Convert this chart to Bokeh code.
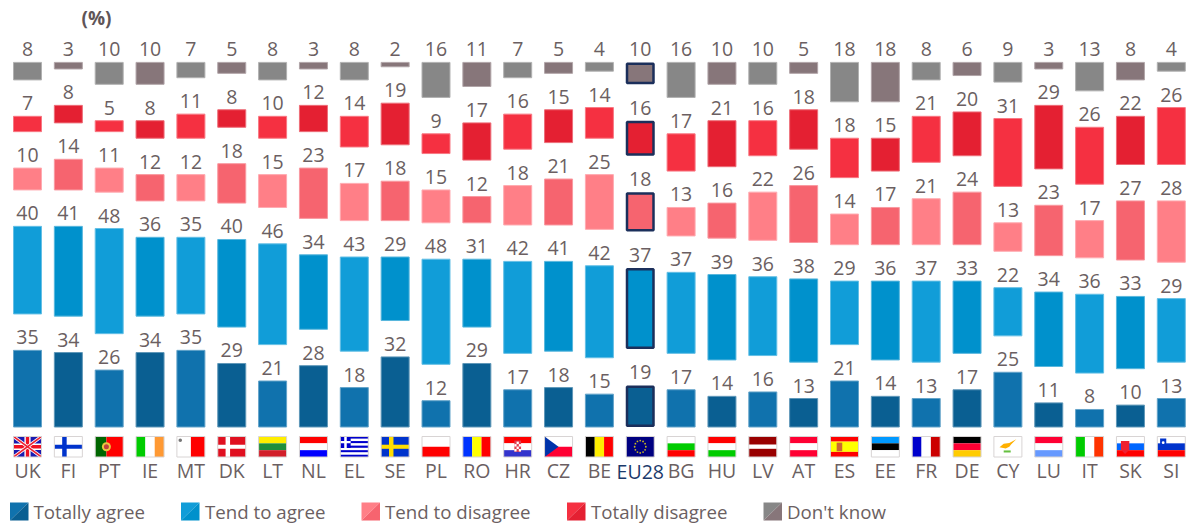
from bokeh.plotting import figure
from bokeh.models import Range1d, FixedTicker, LinearAxis
from bokeh.core.properties import value
from bokeh.embed import file_html
from bokeh.resources import INLINE
import numpy as np

countries = ["UK","FI","PT","IE","MT","DK","LT","NL","EL","SE","PL","RO","HR","CZ","BE","EU28","BG","HU","LV","AT","ES","EE","FR","DE","CY","LU","IT","SK","SI"]
totally_agree = [35,34,26,34,35,29,21,28,18,32,12,29,17,18,15,19,17,14,16,13,21,14,13,17,25,11,8,10,13]
tend_agree = [40,41,48,36,35,40,46,34,43,29,48,31,42,41,42,37,37,39,36,38,29,36,37,33,22,34,36,33,29]
tend_disagree = [10,14,11,12,12,18,15,23,17,18,15,12,18,21,25,18,13,16,22,26,14,17,21,24,13,23,17,27,28]
totally_disagree = [7,8,5,8,11,8,10,12,14,19,9,17,16,15,14,16,17,21,16,18,18,15,21,20,31,29,26,22,26]
dont_know = [8,3,10,10,7,5,8,3,8,2,16,11,7,5,4,10,16,10,10,5,18,18,8,6,9,3,13,8,4]
series_names = ["Totally agree","Tend to agree","Tend to disagree","Totally disagree","Don't know"]
series = [totally_agree, tend_agree, tend_disagree, totally_disagree, dont_know]
light = ["#1072AD","#119DD8","#FF7F87","#F53041","#878787"]
dark = ["#0A5F92","#0091CC","#F6646F","#E42032","#87767A"]

W, H = 1187, 525
OX, OY = 0, 0
PITCH, X0 = 40.85, 27.0
UNIT, BASE = 2.19, 426.5
GAP = 36.4 / UNIT
BAR = 29.0 / PITCH
TXT = "#6B5F62"
FONT = "Open Sans"

p = figure(width=W, height=H, output_backend="svg", toolbar_location=None,
           x_range=Range1d((OX - X0) / PITCH, (OX + W - X0) / PITCH),
           y_range=Range1d((BASE - OY - H) / UNIT, (BASE - OY) / UNIT),
           min_border=0, outline_line_color=None, border_fill_color="white")
p.extra_x_ranges["px"] = Range1d(OX, OX + W)
p.extra_y_ranges["px"] = Range1d(OY + H, OY)
p.grid.visible = False
p.yaxis.visible = False
p.xaxis.visible = False

idx = np.arange(len(countries))
ax = LinearAxis(ticker=FixedTicker(ticks=[int(i) for i in idx if countries[i] != "EU28"]),
                major_label_overrides={int(i): c for i, c in enumerate(countries)},
                axis_line_color=None, major_tick_line_color=None, minor_tick_line_color=None,
                major_label_text_font=FONT, major_label_text_font_size="19.5px",
                major_label_text_color=TXT, major_label_standoff=24, fixed_location=0)
p.add_layout(ax, "below")

def tint(c, a=0.35):
    r = [int(c[k:k+2], 16) for k in (1, 3, 5)]
    return "#%02x%02x%02x" % tuple(int(v + (255 - v) * a) for v in r)

cum = np.zeros(len(countries))
for s, vals in enumerate(series):
    vals = np.array(vals, float)
    bottom = cum + s * GAP
    top = bottom + vals
    cols = [light[s] if i % 2 == 0 else dark[s] for i in idx]
    lines = [tint(c) for c in cols]
    eu = [i for i in idx if countries[i] == "EU28"]
    rest = [i for i in idx if countries[i] != "EU28"]
    p.vbar(x=idx[rest], bottom=bottom[rest], top=top[rest], width=BAR - 1 / PITCH,
           fill_color=[cols[i] for i in rest], line_color=[lines[i] for i in rest], line_width=1)
    ix, iy = 1.25 / PITCH, 1.25 / UNIT
    p.vbar(x=idx[eu], bottom=bottom[eu] + iy, top=top[eu] - iy, width=BAR - 2 * ix,
           fill_color=[cols[i] for i in eu], line_color="#1B2F5B", line_width=2.5)
    p.text(x=idx, y=top, text=[str(int(v)) for v in vals], text_align="center",
           text_baseline="alphabetic", y_offset=-13, text_color=TXT,
           text_font=value(FONT), text_font_size="19.5px")
    cum = cum + vals

p.text(x=[15], y=[0], text=["EU28"], text_align="center", text_baseline="alphabetic", y_offset=44,
       text_color="#1B3A6B", text_font=value(FONT), text_font_size="19.5px")

p.text(x=[96], y=[17], text=["(%)"], x_range_name="px", y_range_name="px", text_align="center",
       text_baseline="middle", text_color="#5F5558", text_font=value(FONT),
       text_font_style="bold", text_font_size="19px")

# ---- flags (drawn in flag-local fractions, 28 x 20.5 px)
Q = []; P = []; C = []
FW, FH, FT = 28.0, 20.5, 436.0
def box(i, a, b, c, d, col):
    cx = X0 + i * PITCH - FW / 2
    Q.append((cx + a * FW, cx + b * FW, FT + c * FH, FT + d * FH, col))
def poly(i, pts, col):
    cx = X0 + i * PITCH - FW / 2
    P.append(([cx + a * FW for a, _ in pts], [FT + b * FH for _, b in pts], col))
def dot(i, a, b, r, col):
    cx = X0 + i * PITCH - FW / 2
    C.append((cx + a * FW, FT + b * FH, r, col))
def hs(i, cols, w=None):
    w = w or [1 / len(cols)] * len(cols); t = 0
    for c, f in zip(cols, w):
        box(i, 0, 1, t, t + f, c); t += f
def vs(i, cols, w=None):
    w = w or [1 / len(cols)] * len(cols); t = 0
    for c, f in zip(cols, w):
        box(i, t, t + f, 0, 1, c); t += f
def nordic(i, bg, cross):
    box(i, 0, 1, 0, 1, bg)
    box(i, .28, .44, 0, 1, cross)
    box(i, 0, 1, .40, .60, cross)
WH = "#FFFFFF"
k = {c: n for n, c in enumerate(countries)}

i = k["UK"]; box(i, 0, 1, 0, 1, "#1A1AB0")
poly(i, [(0,0),(.1,0),(1,.9),(1,1),(.9,1),(0,.1)], WH)
poly(i, [(1,0),(.9,0),(0,.9),(0,1),(.1,1),(1,.1)], WH)
poly(i, [(0,0),(.05,0),(1,.95),(1,1),(.95,1),(0,.05)], "#EE2233")
poly(i, [(1,0),(.95,0),(0,.95),(0,1),(.05,1),(1,.05)], "#EE2233")
box(i, .39, .61, 0, 1, WH); box(i, 0, 1, .34, .66, WH)
box(i, .44, .56, 0, 1, "#EE1122"); box(i, 0, 1, .41, .59, "#EE1122")
nordic(k["FI"], WH, "#0033CC")
i = k["PT"]; vs(i, ["#006600", "#FF0000"], [.4, .6]); dot(i, .4, .5, 4.5, "#E8C840"); dot(i, .4, .5, 2.5, "#C04040")
vs(k["IE"], ["#00CC00", WH, "#FF9933"])
i = k["MT"]; vs(i, [WH, "#FF0000"], [.5, .5]); dot(i, .12, .18, 1.8, "#777777")
nordic(k["DK"], "#E01020", WH)
hs(k["LT"], ["#FFEE00", "#1E8F3C", "#D21F2A"])
hs(k["NL"], ["#FF0000", WH, "#0000FF"])
i = k["EL"]; hs(i, ["#0000CC", WH] * 4 + ["#0000CC"], [1/9]*9); box(i, 0, .37, 0, .56, "#0000CC")
box(i, .14, .23, 0, .56, WH); box(i, 0, .37, .22, .33, WH)
nordic(k["SE"], "#0033CC", "#FFDD00")
hs(k["PL"], [WH, "#FF0000"])
vs(k["RO"], ["#0033FF", "#FFFF00", "#FF0000"])
i = k["HR"]; hs(i, ["#FF0000", WH, "#3333CC"]); box(i, .38, .62, .2, .75, "#E04050")
for a in range(3):
    for b in range(4):
        if (a + b) % 2: box(i, .38 + a * .08, .46 + a * .08, .25 + b * .12, .37 + b * .12, WH)
i = k["CZ"]; hs(i, [WH, "#FF0033"]); poly(i, [(0,0),(.5,.5),(0,1)], "#0033AA")
vs(k["BE"], ["#000000", "#FFEE00", "#FF0000"])
i = k["EU28"]; box(i, 0, 1, 0, 1, "#000080")
for t in range(12):
    a = np.pi * t / 6
    dot(i, .5 + .2 * np.cos(a), .5 + .3 * np.sin(a), .9, "#C8B820")
hs(k["BG"], [WH, "#00CC00", "#FF0000"])
hs(k["HU"], ["#FF0000", WH, "#00CC00"])
hs(k["LV"], ["#990000", WH, "#990000"], [.4, .2, .4])
hs(k["AT"], ["#FF0033", WH, "#FF0033"])
i = k["ES"]; hs(i, ["#FF0000", "#FFFF00", "#FF0000"], [.25, .5, .25]); box(i, .22, .42, .3, .72, "#CC6633")
hs(k["EE"], ["#0099FF", "#000000", WH])
vs(k["FR"], ["#0000CC", WH, "#CC0000"])
hs(k["DE"], ["#000000", "#FF0033", "#FFCC00"])
i = k["CY"]; box(i, 0, 1, 0, 1, WH)
poly(i, [(.2,.52),(.35,.35),(.55,.32),(.8,.14),(.62,.38),(.55,.5),(.42,.58)], "#FFB000")
box(i, .35, .6, .68, .78, "#66C040")
hs(k["LU"], ["#FF0033", WH, "#6699FF"])
vs(k["IT"], ["#00CC00", WH, "#FF3300"])
i = k["SK"]; hs(i, [WH, "#0066FF", "#FF0000"]); poly(i, [(.16,.22),(.46,.22),(.46,.65),(.31,.85),(.16,.65)], "#F02030")
box(i, .28, .34, .3, .65, WH); box(i, .22, .4, .38, .46, WH)
i = k["SI"]; hs(i, [WH, "#0033CC", "#FF0000"]); poly(i, [(.1,.1),(.32,.1),(.32,.4),(.21,.55),(.1,.4)], "#0033CC")
dot(i, .21, .3, 1.4, WH)

p.quad(left=[q[0] for q in Q], right=[q[1] for q in Q], top=[q[2] for q in Q], bottom=[q[3] for q in Q],
       fill_color=[q[4] for q in Q], line_color=None, x_range_name="px", y_range_name="px")
p.patches(xs=[a[0] for a in P], ys=[a[1] for a in P], fill_color=[a[2] for a in P], line_color=None,
          x_range_name="px", y_range_name="px")
p.circle(x=[c[0] for c in C], y=[c[1] for c in C], radius=[c[2] for c in C], fill_color=[c[3] for c in C],
         line_color=None, x_range_name="px", y_range_name="px", radius_units="screen")
# thin frame around every flag
fx = X0 + idx * PITCH
p.quad(left=fx - FW / 2, right=fx + FW / 2, top=FT, bottom=FT + FH, fill_color=None,
       line_color="#D8D4D4", line_width=1, x_range_name="px", y_range_name="px")

# ---- legend
sw_x = [9.5, 180.5, 361, 566.5, 763]
tx_x = [33, 204.5, 384.5, 590.5, 786.5]
SW, ST, SB = 18.5, 502, 520
for s, name in enumerate(series_names):
    x = sw_x[s]
    p.patches(xs=[[x, x + SW, x], [x + SW, x + SW, x]], ys=[[ST, ST, SB], [ST, SB, SB]],
              fill_color=[light[s], dark[s]], line_color=None, x_range_name="px", y_range_name="px")
    p.text(x=[tx_x[s]], y=[511], text=[name], text_align="left", text_baseline="middle", text_color=TXT,
           text_font=value(FONT), text_font_size="18.7px", x_range_name="px", y_range_name="px")

open("out.html", "w").write(file_html(p, INLINE))
